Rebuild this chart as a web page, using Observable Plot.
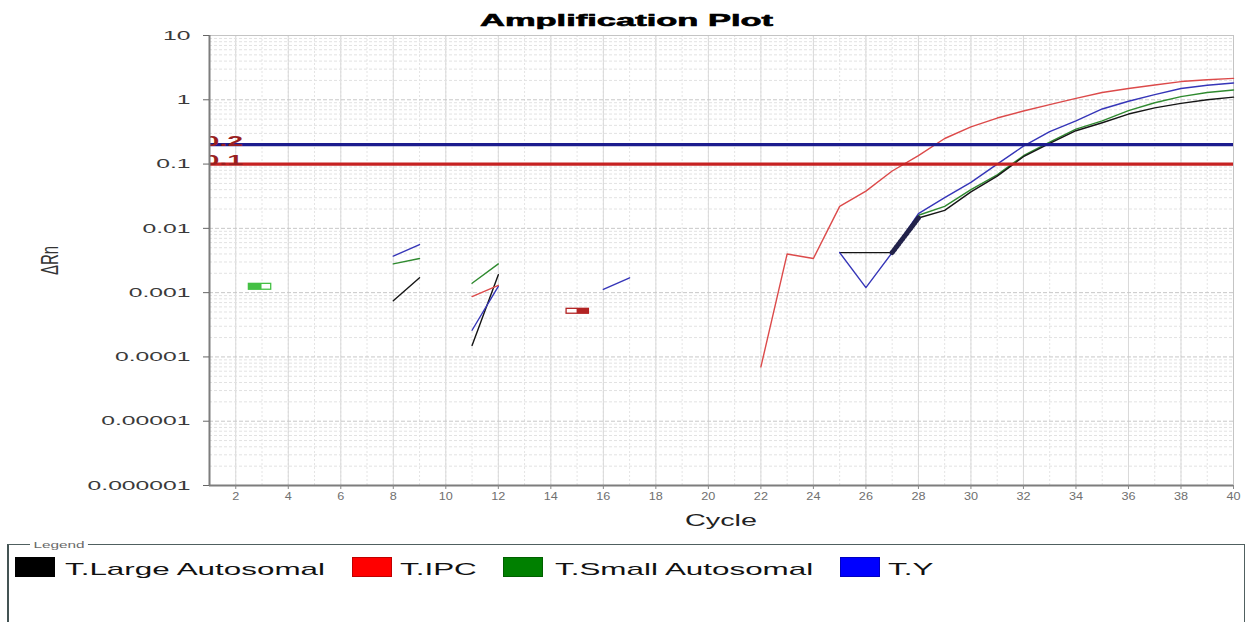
<!DOCTYPE html>
<html><head><meta charset="utf-8">
<script src="https://cdn.jsdelivr.net/npm/d3@7"></script>
<script src="https://cdn.jsdelivr.net/npm/@observablehq/plot@0.6"></script>
<style>
body{margin:0;background:#fff;font-family:"Liberation Sans",Arial,sans-serif;}
#wrap{position:relative;width:1249px;height:622px;overflow:hidden;background:#fff;}
#chart{position:absolute;left:0;top:0;}
.abs{position:absolute;white-space:nowrap;line-height:1;}
</style></head>
<body><div id="wrap"><div id="chart"></div></div>
<script>
// ---------- data ----------
const series = ["T.Large Autosomal", "T.IPC", "T.Small Autosomal", "T.Y"];
const legendColors = ["#000000", "#ff0000", "#008000", "#0000ff"];
const lineColors = ["#151515", "#dc4a4a", "#2f8a2f", "#3535b8"];

const xTickValues = [2,4,6,8,10,12,14,16,18,20,22,24,26,28,30,32,34,36,38,40];
const yTickValues = [1e-6, 1e-5, 1e-4, 1e-3, 1e-2, 1e-1, 1, 10];
const yTickLabels = ["0.000001","0.00001","0.0001","0.001","0.01","0.1","1","10"];

const thresholds = [0.2, 0.1];
const thresholdLabels = ["0.2", "0.1"];
const thresholdColors = ["#1c1c8e", "#c62222"];

// main amplification curves
const ipcCycles = [22,23,24,25,26,27,28,29,30,31,32,33,34,35,36,37,38,39,40];
const ipcValues = [0.00007,0.004,0.0034,0.022,0.038,0.078,0.135,0.25,0.38,0.52,0.67,0.84,1.05,1.3,1.5,1.7,1.92,2.05,2.15];

const largeCycles = [25,26,27,28,29,30,31,32,33,34,35,36,37,38,39,40];
const largeValues = [0.0042,0.0042,0.0042,0.0145,0.019,0.037,0.065,0.13,0.21,0.33,0.44,0.6,0.75,0.88,1.0,1.1];

const smallCycles = [28,29,30,31,32,33,34,35,36,37,38,39,40];
const smallValues = [0.016,0.022,0.04,0.068,0.135,0.22,0.35,0.47,0.68,0.9,1.12,1.3,1.42];

const tyCycles = [25,26,27,28,29,30,31,32,33,34,35,36,37,38,39,40];
const tyValues = [0.0042,0.0012,0.0042,0.017,0.03,0.052,0.1,0.19,0.32,0.47,0.72,0.95,1.2,1.5,1.68,1.82];

// early short fragments: [series, cycle start, value start, cycle end, value end]
const fragments = [
  ["T.Large Autosomal", 8, 0.00075, 9, 0.0017],
  ["T.Large Autosomal", 11, 0.00015, 12, 0.0019],
  ["T.Y", 8, 0.0037, 9, 0.0056],
  ["T.Y", 11, 0.00026, 12, 0.00125],
  ["T.Y", 16, 0.00112, 17, 0.0017],
  ["T.Small Autosomal", 8, 0.0028, 9, 0.0034],
  ["T.Small Autosomal", 11, 0.0014, 12, 0.0028],
  ["T.IPC", 11, 0.00087, 12, 0.0013]
];

// small single-point boxes
const boxSeries = ["T.Small Autosomal", "T.IPC"];
const boxStart = [2.5, 14.6];
const boxMid = [3.0, 15.0];
const boxEnd = [3.35, 15.45];
const boxLow = [0.00111, 0.00047];
const boxHigh = [0.00137, 0.00056];
const boxFilledHalf = ["left", "right"];
const boxColors = ["#45c045", "#b32424"];

// ---------- tables ----------
const rows = [];
function pushCurve(name, cs, vs) {
  cs.forEach((c, i) => rows.push({series: name, seg: name + "-main", cycle: c, value: vs[i]}));
}
pushCurve("T.IPC", ipcCycles, ipcValues);
pushCurve("T.Small Autosomal", smallCycles, smallValues);
pushCurve("T.Large Autosomal", largeCycles, largeValues);
pushCurve("T.Y", tyCycles, tyValues);
fragments.forEach((f, i) => {
  rows.push({series: f[0], seg: "frag" + i, cycle: f[1], value: f[2]});
  rows.push({series: f[0], seg: "frag" + i, cycle: f[3], value: f[4]});
});
const hatchRows = rows.filter(r => r.series === "T.Large Autosomal" && r.seg.endsWith("main") && (r.cycle === 27 || r.cycle === 28));

const boxes = boxSeries.map((s, i) => ({
  series: s, c1: boxStart[i], c2: boxEnd[i], cm: boxMid[i], lo: boxLow[i], hi: boxHigh[i],
  half: boxFilledHalf[i], color: boxColors[i]
}));

const allCycles = d3.range(1, 41);
const yMinor = [];
for (let k = -6; k <= 0; k++) for (let m = 2; m <= 9; m++) yMinor.push(m * Math.pow(10, k));

// ---------- plot ----------
const chart = Plot.plot({
  width: 1249, height: 530,
  marginLeft: 209, marginRight: 16, marginTop: 35, marginBottom: 45,
  x: {domain: [1, 40], label: null},
  y: {type: "log", domain: [1e-6, 10], label: null},
  color: {domain: series, range: lineColors},
  style: {fontFamily: "'Liberation Sans', Arial, sans-serif", background: "white", overflow: "visible"},
  marks: [
    Plot.ruleX(allCycles, {stroke: "#e4e4e4", strokeDasharray: "2,2"}),
    Plot.ruleX(xTickValues, {stroke: "#d9d9d9"}),
    Plot.ruleY(yMinor, {stroke: "#e2e2e2", strokeDasharray: "3,2"}),
    Plot.ruleY(yTickValues, {stroke: "#c8c8c8", strokeDasharray: "4,2"}),
    Plot.frame({stroke: "#c4c4c4"}),
    Plot.line(rows, {x: "cycle", y: "value", z: "seg", stroke: "series", strokeWidth: 1.4, curve: "linear"}),
    Plot.line(hatchRows, {x: "cycle", y: "value", stroke: "#22224a", strokeWidth: 5, strokeDasharray: "1.3,2"}),
    Plot.rect(boxes, {x1: "c1", x2: "c2", y1: "lo", y2: "hi", fill: "white", stroke: "color", strokeWidth: 1.3}),
    Plot.rect(boxes, {x1: d => d.half === "left" ? d.c1 : d.cm, x2: d => d.half === "left" ? d.cm : d.c2, y1: "lo", y2: "hi", fill: "color"}),
    Plot.ruleY(thresholds, {stroke: (d, i) => thresholdColors[i], strokeWidth: 3.2}),
    Plot.text(thresholds, {x: () => 1, y: d => d, text: (d, i) => thresholdLabels[i], textAnchor: "start", lineAnchor: "bottom",
      dx: -6, dy: 1, fontSize: 15, fontWeight: "bold", fill: "#9a1f1f", clip: true}),
    Plot.ruleX([1], {stroke: "#7d7d7d", strokeWidth: 2}),
    Plot.ruleY([1e-6], {stroke: "#7d7d7d", strokeWidth: 2}),
    Plot.axisY(yTickValues, {tickFormat: d => yTickLabels[yTickValues.indexOf(d)], tickSize: 6, tickPadding: 13,
      fontSize: 13, stroke: "#666", fill: "#3a3a3a", label: null}),
    Plot.axisX(xTickValues, {tickSize: 4, tickPadding: 3, fontSize: 11, stroke: "#888", fill: "#707070", label: null})
  ]
});
document.getElementById("chart").appendChild(chart);

// horizontal stretch of svg texts around their anchor (y offsets are in em, untouched by scale(f,1))
function stretchSvg(sel, f) {
  chart.querySelectorAll(sel).forEach(t => {
    const tr = t.getAttribute("transform") || "";
    t.setAttribute("transform", tr + ` scale(${f},1)`);
  });
}
stretchSvg('g[aria-label="y-axis tick label"] text', 1.9);
stretchSvg('g[aria-label="x-axis tick label"] text', 1.15);
stretchSvg('g[aria-label="text"] text', 1.9);

// ---------- html text ----------
const wrap = document.getElementById("wrap");
function addText(txt, opts) {
  const s = document.createElement("span");
  s.className = "abs";
  s.textContent = txt;
  s.style.font = opts.font;
  s.style.color = opts.color || "#000";
  if (opts.extra) Object.assign(s.style, opts.extra);
  wrap.appendChild(s);
  const w = s.getBoundingClientRect().width;
  const f = opts.width ? opts.width / w : (opts.factor || 1);
  const finalW = w * f;
  let left = opts.left;
  if (opts.center != null) left = opts.center - finalW / 2;
  s.style.left = left + "px";
  s.style.top = opts.top + "px";
  s.style.transformOrigin = "0 0";
  s.style.transform = `scale(${f},1)`;
  return f;
}
addText("Amplification Plot", {font: "bold 17px 'Liberation Sans', Arial, sans-serif", center: 626, top: 10.5, width: 293,
  extra: {webkitTextStroke: "0.6px #000"}});
addText("Cycle", {font: "16px 'Liberation Sans', Arial, sans-serif", center: 721, top: 511.5, width: 72, color: "#222"});

// y label rotated
const yl = document.createElement("span");
yl.className = "abs";
yl.textContent = "ΔRn";
yl.style.font = "15px 'Liberation Sans', Arial, sans-serif";
yl.style.color = "#333";
wrap.appendChild(yl);
const ylw = yl.getBoundingClientRect().width, ylh = yl.getBoundingClientRect().height;
yl.style.left = (50 - ylw / 2) + "px";
yl.style.top = (260 - ylh / 2) + "px";
yl.style.transformOrigin = "50% 50%";
yl.style.transform = "rotate(-90deg) scale(1,1.6)";

// legend box
const box = document.createElement("div");
Object.assign(box.style, {position: "absolute", left: "7px", top: "544px", width: "1238px", height: "80px",
  border: "1px solid #506060", borderLeft: "2px solid #445454", boxSizing: "border-box"});
wrap.appendChild(box);
addText("Legend", {font: "9px 'Liberation Sans', Arial, sans-serif", left: 30, top: 540, width: 58, color: "#6a6a6a",
  extra: {background: "#fff", padding: "0 2px"}});

const legendRectLeft = [15, 352, 503, 840];
const legendTextLeft = [65, 400, 555, 888];
let lf = null;
series.forEach((s, i) => {
  const r = document.createElement("div");
  Object.assign(r.style, {position: "absolute", left: legendRectLeft[i] + "px", top: "557px", width: "40px", height: "20px",
    background: legendColors[i], boxSizing: "border-box", border: "1px solid " + d3.color(legendColors[i]).darker(0.8)});
  wrap.appendChild(r);
  const o = {font: "17px 'Liberation Sans', Arial, sans-serif", left: legendTextLeft[i], top: 559.5, color: "#111"};
  if (lf == null) { o.width = 260; lf = addText(s, o); } else { o.factor = lf; addText(s, o); }
});
</script>
</body></html>
